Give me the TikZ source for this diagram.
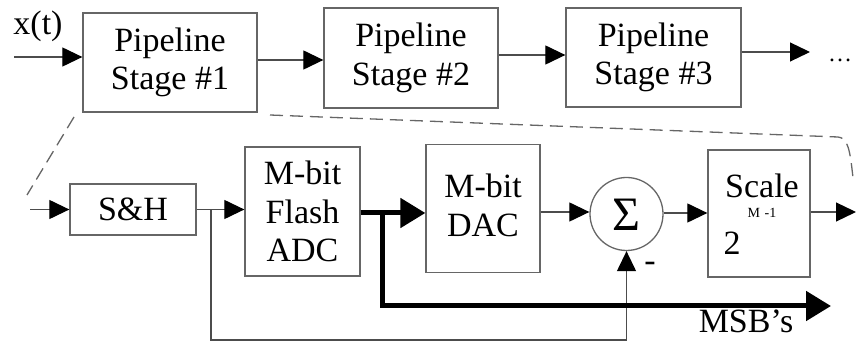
\documentclass[tikz,border=0pt]{standalone}
\usepackage{fontspec}
\setmainfont{Liberation Serif}
\usetikzlibrary{arrows.meta}
\begin{document}
\begin{tikzpicture}[x=1pt,y=-1pt,
  box/.style={draw=black!60,line width=1.3pt,rectangle,inner sep=0pt,align=center,
    font=\fontsize{34}{38.5}\selectfont},
  lbl/.style={inner sep=0pt,font=\fontsize{34}{38.5}\selectfont},
  arr/.style={draw=black!70,line width=1.2pt,-{Triangle[length=20pt,width=19pt,color=black]}},
  ln/.style={draw=black!70,line width=1.2pt},
  tarr/.style={draw=black,line width=5pt,-{Triangle[length=25pt,width=29pt]}},
  dln/.style={draw=black!60,line width=1.3pt,dash pattern=on 13pt off 7pt}]
\useasboundingbox (0,0) rectangle (856,344);
% top row
\node[box,minimum width=174pt,minimum height=99pt] (s1) at (170,62.5) {Pipeline\\Stage \#1};
\node[box,minimum width=174pt,minimum height=100pt] (s2) at (411,58) {Pipeline\\Stage \#2};
\node[box,minimum width=175pt,minimum height=99pt] (s3) at (653.5,57.5) {Pipeline\\Stage \#3};
\node[lbl,anchor=base] (xt) at (38,35) {x(t)};
\node[lbl,anchor=base] (dots) at (840,62) {\fontsize{24}{24}\selectfont\dots};
\coordinate (in1) at (14,57);
\coordinate (out1) at (810,52);
\draw[arr] (in1) -- (in1 -| s1.west);
\draw[arr] (s1.east |- 0,60) -- (s2.west |- 0,60);
\draw[arr] (s2.east |- 0,55) -- (s3.west |- 0,55);
\draw[arr] (s3.east |- out1) -- (out1);
% bottom row
\node[box,minimum width=126pt,minimum height=51pt] (sh) at (133,209.5) {S\&H};
\node[box,minimum width=115pt,minimum height=129pt] (adc) at (302.5,211.5) {M-bit\\Flash\\ADC};
\node[box,minimum width=114pt,minimum height=128pt] (dac) at (483,208.5) {};
\node[lbl,anchor=base] (dact1) at (483,198) {M-bit};
\node[lbl,anchor=base] (dact2) at (483,237) {DAC};
\node[draw=black!60,line width=1.3pt,circle,minimum size=73pt,inner sep=0pt] (sig) at (626.5,214) {};
\node[lbl,font=\fontsize{48}{48}\selectfont] (sigt) at (626.5,215) {Σ};
\node[box,minimum width=102pt,minimum height=127pt] (scl) at (759,213.5) {};
\node[lbl,anchor=base] (sclt) at (762,198) {Scale};
\node[lbl,anchor=base,font=\fontsize{14}{14}\selectfont] (sup) at (762,218) {M\,\,-1};
\node[lbl,anchor=base] (two) at (732,255) {2};
\node[lbl,anchor=base] (minus) at (650,272) {-};
\node[lbl,anchor=base] (msb) at (746,333) {MSB's};
\coordinate (in2) at (30,209.5);
\coordinate (out2) at (856,212);
\coordinate (bra) at (211,209.5);
\coordinate (brb) at (382,213);
\coordinate (msbend) at (831,306);
\draw[arr] (in2) -- (sh.west);
\draw[arr] (sh.east) -- (sh.east -| adc.west);
\draw[ln] (bra) -- (211,340) -- (626.5,340) -- (626.5,300);
\draw[arr] (626.5,300) -- (sig.south);
\draw[tarr] (adc.east |- brb) -- (dac.west |- brb);
\draw[tarr] (brb) |- (msbend);
\draw[arr] (dac.east |- 0,212) -- (sig.west |- 0,212);
\draw[arr] (sig.east |- 0,213) -- (scl.west |- 0,213);
\draw[arr] (scl.east |- out2) -- (out2);
% dashed zoom lines
\coordinate (d1) at (74,117);
\coordinate (d2) at (27,195);
\coordinate (d3) at (270,115);
\coordinate (d4) at (838,137);
\coordinate (d5) at (853,178);
\draw[dln] (d1) -- (d2);
\draw[dln] (d3) -- (d4) .. controls (848,138) and (850,150) .. (d5);
\end{tikzpicture}
\end{document}
